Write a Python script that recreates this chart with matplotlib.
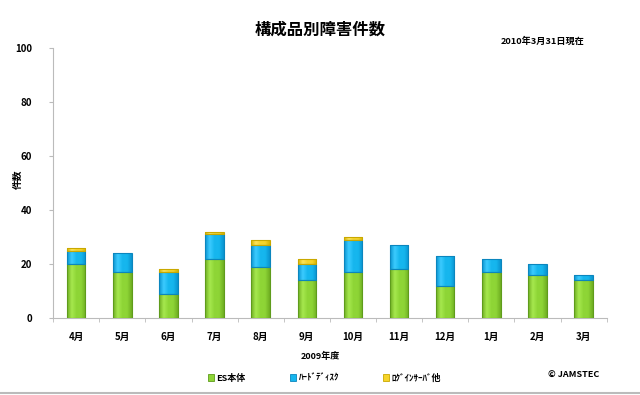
import matplotlib
matplotlib.use("Agg")
import matplotlib.pyplot as plt
from matplotlib.patches import Patch
from matplotlib.colors import LinearSegmentedColormap
import numpy as np

plt.rcParams['font.family'] = ['Noto Sans CJK JP', 'DejaVu Sans']

months = ["4月", "5月", "6月", "7月", "8月", "9月", "10月", "11月", "12月", "1月", "2月", "3月"]
es_main = [20, 17, 9, 22, 19, 14, 17, 18, 12, 17, 16, 14]
hard_disk = [5, 7, 8, 9, 8, 6, 12, 9, 11, 5, 4, 2]
login_etc = [1, 0, 1, 1, 2, 2, 1, 0, 0, 0, 0, 0]
series_names = ["ES本体", "ﾊｰﾄﾞﾃﾞｨｽｸ", "ﾛｸﾞｲﾝｻｰﾊﾞ他"]
yticks = [0, 20, 40, 60, 80, 100]

face = ["#8ED536", "#16B6EE", "#F6D42A"]
light = ["#A6E84E", "#3CCBFF", "#FFE45A"]
dark = ["#6FAE22", "#0A94D0", "#D8B400"]
edge = ["#5F9C1C", "#0B86BE", "#C9A800"]

fig = plt.figure(figsize=(6.4, 3.95), dpi=100)
ax = fig.add_axes([0.083, 0.195, 0.865, 0.683])

x = np.arange(len(months))
w = 0.4
bottom = np.zeros(len(months))
grad = np.linspace(0, 1, 64).reshape(1, -1)
for vals, fc, lc, dc, ec in zip([es_main, hard_disk, login_etc], face, light, dark, edge):
    v = np.array(vals, dtype=float)
    mask = v > 0
    bars = ax.bar(x[mask], v[mask], w, bottom=bottom[mask], color=fc, edgecolor=ec, linewidth=0.8, zorder=3)
    cmap = LinearSegmentedColormap.from_list("g", [dc, lc, fc, fc, dc])
    for b in bars:
        x0, y0 = b.get_x(), b.get_y()
        im = ax.imshow(grad, cmap=cmap, aspect='auto', zorder=3.5,
                       extent=(x0, x0 + b.get_width(), y0, y0 + b.get_height()))
        im.set_clip_path(b)
        b.set_facecolor('none')
        b.set_zorder(4)
    bottom += v

ax.set_xlim(-0.5, len(months) - 0.5)
ax.set_ylim(0, 100)
ax.set_yticks(yticks)
ax.set_yticklabels([str(t) for t in yticks], fontsize=7, fontweight='bold')
ax.set_xticks(x)
ax.set_xticklabels(months, fontsize=7, fontweight='bold')
ax.tick_params(axis='x', length=0, pad=10)
ax.set_xticks(np.arange(len(months) + 1) - 0.5, minor=True)
ax.tick_params(axis='x', which='minor', length=3, color='#BBBBBB', direction='out')
ax.tick_params(axis='y', length=3, color='#BBBBBB', pad=12)
for s in ['top', 'right']:
    ax.spines[s].set_visible(False)
for s in ['left', 'bottom']:
    ax.spines[s].set_color('#BBBBBB')
    ax.spines[s].set_linewidth(0.8)

fig.text(0.5, 0.925, "構成品別障害件数", ha='center', va='center', fontsize=11.8, fontweight='bold')
fig.text(0.848, 0.895, "2010年3月31日現在", ha='center', va='center', fontsize=6.6, fontweight='bold')
fig.text(0.027, 0.545, "件数", ha='center', va='center', rotation=90, fontsize=7, fontweight='bold')
fig.text(0.5, 0.097, "2009年度", ha='center', va='center', fontsize=6.5, fontweight='bold')
fig.text(0.897, 0.05, "© JAMSTEC", ha='center', va='center', fontsize=6.5, fontweight='bold')

handles = [Patch(facecolor=fc, edgecolor=ec, linewidth=0.6) for fc, ec in zip(face, edge)]
leg = fig.legend(handles, series_names, loc='center', bbox_to_anchor=(0.507, 0.043), ncol=3,
                 frameon=False, fontsize=6.5, handlelength=0.7, handleheight=0.7,
                 handletextpad=0.3, columnspacing=4.85)
for t in leg.get_texts():
    t.set_fontweight('bold')

fig.add_artist(plt.Line2D([0, 1], [0.005, 0.005], color='#BBBBBB', linewidth=1.5, transform=fig.transFigure))

fig.savefig("out.png", dpi=100, facecolor='white')
